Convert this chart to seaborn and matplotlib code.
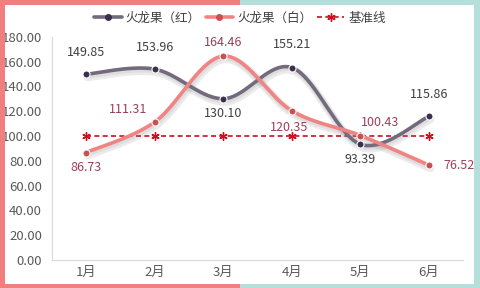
import numpy as np
import pandas as pd
import matplotlib
matplotlib.use("Agg")
import matplotlib.pyplot as plt
import matplotlib.patheffects as pe
from matplotlib.patches import Rectangle
from matplotlib.lines import Line2D
import seaborn as sns

months = ["1月", "2月", "3月", "4月", "5月", "6月"]
red_vals = [149.85, 153.96, 130.10, 155.21, 93.39, 115.86]
white_vals = [86.73, 111.31, 164.46, 120.35, 100.43, 76.52]
base_vals = [100, 100, 100, 100, 100, 100]
series_names = ["火龙果（红）", "火龙果（白）", "基准线"]
yticks = [0, 20, 40, 60, 80, 100, 120, 140, 160, 180]

sns.set_theme(style="white")
plt.rcParams['font.family'] = ['Noto Sans CJK SC', 'DejaVu Sans']

fig = plt.figure(figsize=(4.8, 2.88), dpi=100)
ax = fig.add_axes([0.108, 0.097, 0.857, 0.775])

x = np.arange(len(months))


def smooth(xs, ys, n=40):
    # Catmull-Rom spline used only for drawing a smoothed line through the points
    xs = np.asarray(xs, float); ys = np.asarray(ys, float)
    px = np.concatenate([[xs[0]], xs, [xs[-1]]])
    py = np.concatenate([[ys[0]], ys, [ys[-1]]])
    ox, oy = [], []
    for i in range(1, len(px) - 2):
        t = np.linspace(0, 1, n)
        for k, arr in enumerate((px, py)):
            a, b, c, d = arr[i-1], arr[i], arr[i+1], arr[i+2]
            v = 0.5 * ((2*b) + (-a + c)*t + (2*a - 5*b + 4*c - d)*t**2 + (-a + 3*b - 3*c + d)*t**3)
            (ox if k == 0 else oy).append(v)
    return np.concatenate(ox), np.concatenate(oy)

red_line = "#736b7d"
red_mark = "#3a2f4d"
white_line = "#f28383"
white_mark = "#c9504f"
base_col = "#c8101e"

shadow = [pe.SimpleLineShadow(offset=(1.0, -2.0), shadow_color="#7a7a7a", alpha=0.15, linewidth=6),
          pe.SimpleLineShadow(offset=(0.5, -1.2), shadow_color="#7a7a7a", alpha=0.12, linewidth=4),
          pe.Normal()]

sx, sy = smooth(x, red_vals)
ax.plot(sx, sy, color=red_line, lw=2.6, solid_capstyle="round", path_effects=shadow, zorder=3)
sx, sy = smooth(x, white_vals)
ax.plot(sx, sy, color=white_line, lw=2.6, solid_capstyle="round", path_effects=shadow, zorder=3)

df = pd.DataFrame({"x": x, "red": red_vals, "white": white_vals, "base": base_vals})
sns.lineplot(data=df, x="x", y="base", ax=ax, color=base_col, lw=1.2, linestyle=(0, (3, 2)),
             marker=(6, 2, 0), markersize=6, markeredgecolor=base_col, markeredgewidth=1.0, zorder=2)
sns.scatterplot(data=df, x="x", y="red", ax=ax, color=red_mark, s=26, edgecolor="white", linewidth=0.8, zorder=5)
sns.scatterplot(data=df, x="x", y="white", ax=ax, color=white_mark, s=26, edgecolor="white", linewidth=0.8, zorder=5)

# data label offsets (points)
red_off = [(0, 11), (0, 11), (0, -6), (0, 12), (0, -6), (0, 11)]
white_off = [(0, -6), (-19, 4), (0, 5), (-2, -7), (14, 5), (22, 0)]
for xi, v, (dx, dy) in zip(x, red_vals, red_off):
    ax.annotate(f"{v:.2f}", (xi, v), xytext=(dx, dy), textcoords="offset points",
                ha="center", va="center" if dy == 0 else ("bottom" if dy > 0 else "top"),
                fontsize=9, color="#404040", zorder=6)
for xi, v, (dx, dy) in zip(x, white_vals, white_off):
    ax.annotate(f"{v:.2f}", (xi, v), xytext=(dx, dy), textcoords="offset points",
                ha="center", va="center" if dy == 0 else ("bottom" if dy > 0 else "top"),
                fontsize=9, color="#9e3f5a", zorder=6)

ax.set_xlim(-0.5, len(months) - 0.5)
ax.set_ylim(0, 180)
ax.set_xticks(x)
ax.set_xticklabels(months)
ax.set_yticks(yticks)
ax.set_yticklabels([f"{v:.2f}" for v in yticks])
ax.set_xlabel("")
ax.set_ylabel("")
ax.tick_params(axis="both", length=0, labelsize=9.5, colors="#595959")
ax.tick_params(axis="y", pad=7)
ax.tick_params(axis="x", pad=4)
for s in ["top", "right"]:
    ax.spines[s].set_visible(False)
for s in ["left", "bottom"]:
    ax.spines[s].set_color("#d9d9d9")
    ax.spines[s].set_linewidth(0.8)

handles = [
    Line2D([0], [0], color=red_line, lw=2.6, marker="o", markersize=4, markerfacecolor=red_mark, markeredgecolor=red_mark),
    Line2D([0], [0], color=white_line, lw=2.6, marker="o", markersize=4, markerfacecolor=white_mark, markeredgecolor=white_mark),
    Line2D([0], [0], color=base_col, lw=1.2, linestyle=(0, (3, 2)), marker=(6, 2, 0), markersize=6, markeredgecolor=base_col),
]
fig.legend(handles, series_names, loc="center", bbox_to_anchor=(0.5, 0.937), ncol=3, frameon=False,
           fontsize=9, handlelength=2.2, handletextpad=0.3, columnspacing=0.4, labelcolor="#404040")

# border frame
pink = "#f08080"
teal = "#b4dfdb"
W, H = 480.0, 288.0
def rect(x0, y0, w, h, c):
    fig.patches.append(Rectangle((x0 / W, y0 / H), w / W, h / H, transform=fig.transFigure,
                                 facecolor=c, edgecolor="none", zorder=0))
rect(0, H - 5, 240, 5, pink)
rect(240, H - 5, 240, 5, teal)
rect(0, 0, 240, 4, pink)
rect(240, 0, 240, 4, teal)
rect(0, 0, 5, H, pink)
rect(W - 6, 0, 6, H, teal)

fig.savefig("out.png", dpi=100)
